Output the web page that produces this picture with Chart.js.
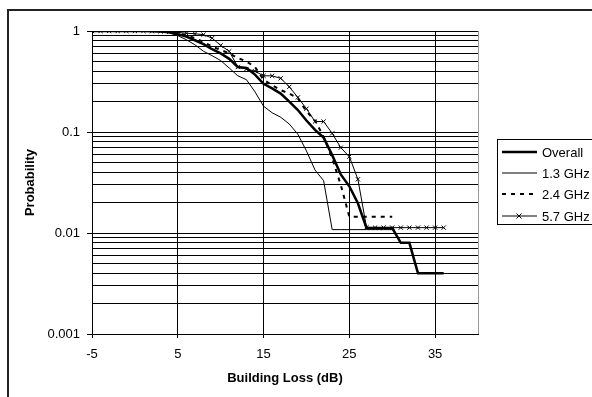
<!DOCTYPE html>
<html lang="en">
<head>
    <meta charset="UTF-8">
    <title>Building Loss</title>
    <script src="https://cdn.jsdelivr.net/npm/chart.js"></script>
    <style>
        body { margin: 0; background: #fff; }
        canvas { display: block; }
    </style>
</head>
<body>
<canvas id="lossChart" width="592" height="397"></canvas>
<script>
    // building loss in dB, one step per point
    var lossDb = [-5, -4, -3, -2, -1, 0, 1, 2, 3, 4, 5, 6, 7, 8, 9, 10, 11, 12, 13, 14, 15,
        16, 17, 18, 19, 20, 21, 22, 23, 24, 25, 26, 27, 28, 29, 30, 31, 32, 33, 34, 35, 36];

    // probability that the loss is exceeded
    var overall = [1, 1, 1, 1, 1, 1, 1, 0.995, 0.99, 0.97, 0.93, 0.88, 0.81, 0.74, 0.66, 0.6, 0.53, 0.44, 0.43, 0.37, 0.3,
        0.27, 0.24, 0.2, 0.165, 0.13, 0.105, 0.088, 0.059, 0.038, 0.029, 0.0197, 0.0112, 0.0112, 0.0112, 0.0112, 0.008, 0.008, 0.004, 0.004, 0.004, 0.004];
    var ghz13 = [1, 1, 1, 1, 1, 1, 1, 0.995, 0.99, 0.96, 0.9, 0.82, 0.73, 0.63, 0.57, 0.51, 0.43, 0.36, 0.33, 0.25, 0.18,
        0.155, 0.14, 0.12, 0.095, 0.065, 0.042, 0.033, 0.0108, 0.0108, 0.0108, 0.0108, 0.0108, 0.0108, 0.0108, 0.0108, null, null, null, null, null, null];
    var ghz24 = [1, 1, 1, 1, 1, 1, 1, 0.997, 0.993, 0.98, 0.95, 0.91, 0.85, 0.78, 0.7, 0.65, 0.6, 0.54, 0.5, 0.44, 0.33,
        0.29, 0.26, 0.24, 0.215, 0.16, 0.13, 0.09, 0.055, 0.03, 0.0145, 0.0145, 0.0145, 0.0145, 0.0145, 0.0145, null, null, null, null, null, null];
    var ghz57 = [1, 1, 1, 1, 1, 1, 1, 0.995, 0.99, 0.98, 0.97, 0.95, 0.94, 0.92, 0.85, 0.72, 0.63, 0.44, 0.42, 0.4, 0.36,
        0.36, 0.34, 0.28, 0.22, 0.17, 0.127, 0.127, 0.097, 0.07, 0.057, 0.034, 0.0114, 0.0113, 0.0113, 0.0113, 0.0113, 0.0113, 0.0113, 0.0113, 0.0113, 0.0113];

    var seriesNames = ["Overall", "1.3 GHz", "2.4 GHz", "5.7 GHz"];

    var xTicks = [-5, 5, 15, 25, 35, 40];
    var yMajor = [0.001, 0.01, 0.1, 1];
    var yTicks = [0.001, 0.002, 0.003, 0.004, 0.005, 0.006, 0.007, 0.008, 0.009,
        0.01, 0.02, 0.03, 0.04, 0.05, 0.06, 0.07, 0.08, 0.09,
        0.1, 0.2, 0.3, 0.4, 0.5, 0.6, 0.7, 0.8, 0.9, 1];

    function points(values) {
        var out = [];
        for (var i = 0; i < lossDb.length; i++) {
            if (values[i] !== null) out.push({ x: lossDb[i], y: values[i] });
        }
        return out;
    }

    function isMajor(v) {
        return yMajor.indexOf(v) !== -1;
    }

    var fontFamily = "'Liberation Sans', Arial, sans-serif";
    Chart.defaults.font.family = fontFamily;
    Chart.defaults.font.size = 13;
    Chart.defaults.color = "#000";

    // white page with the frame on the top and left
    var frame = {
        id: "frame",
        beforeDraw: function(chart) {
            var ctx = chart.ctx;
            ctx.save();
            ctx.fillStyle = "#fff";
            ctx.fillRect(0, 0, chart.width, chart.height);
            ctx.fillStyle = "#222";
            ctx.fillRect(7, 9, chart.width, 2);
            ctx.fillRect(7, 9, 2, chart.height);
            ctx.restore();
        }
    };

    // boxed legend to the right of the plot
    var sideLegend = {
        id: "sideLegend",
        afterDraw: function(chart) {
            var ctx = chart.ctx;
            var left = 497.5, top = 139.5, rowH = 21.2;
            ctx.save();
            ctx.fillStyle = "#fff";
            ctx.fillRect(left, top, 120, 85);
            ctx.strokeStyle = "#000";
            ctx.lineWidth = 1;
            ctx.strokeRect(left, top, 120, 85);
            ctx.font = "13px " + fontFamily;
            ctx.textBaseline = "middle";
            ctx.fillStyle = "#000";
            chart.data.datasets.forEach(function(ds, i) {
                var y = Math.round(top + 12.5 + i * rowH);
                ctx.beginPath();
                ctx.lineWidth = ds.borderWidth;
                ctx.setLineDash(ds.borderDash || []);
                ctx.moveTo(502, y);
                ctx.lineTo(537, y);
                ctx.stroke();
                ctx.setLineDash([]);
                if (ds.pointRadius > 0) {
                    ctx.lineWidth = 1;
                    ctx.beginPath();
                    ctx.moveTo(516.5, y - 2.5);
                    ctx.lineTo(521.5, y + 2.5);
                    ctx.moveTo(521.5, y - 2.5);
                    ctx.lineTo(516.5, y + 2.5);
                    ctx.stroke();
                }
                ctx.fillText(ds.label, 542, y + 1);
            });
            ctx.restore();
        }
    };

    new Chart(document.getElementById("lossChart"), {
        type: "line",
        data: {
            datasets: [{
                label: seriesNames[0],
                data: points(overall),
                borderColor: "#000",
                borderWidth: 2.5,
                pointRadius: 0
            }, {
                label: seriesNames[1],
                data: points(ghz13),
                borderColor: "#000",
                borderWidth: 1,
                pointRadius: 0
            }, {
                label: seriesNames[2],
                data: points(ghz24),
                borderColor: "#000",
                borderWidth: 2,
                borderDash: [4, 5],
                pointRadius: 0
            }, {
                label: seriesNames[3],
                data: points(ghz57),
                borderColor: "#000",
                borderWidth: 1,
                pointStyle: "crossRot",
                pointRadius: 3,
                pointBorderWidth: 1,
                pointBorderColor: "#000"
            }]
        },
        options: {
            responsive: false,
            animation: false,
            events: [],
            layout: { padding: { left: 0, top: 31, right: 114, bottom: 0 } },
            elements: { line: { tension: 0 } },
            plugins: {
                legend: { display: false },
                tooltip: { enabled: false }
            },
            scales: {
                x: {
                    type: "linear",
                    min: -5,
                    max: 40,
                    afterBuildTicks: function(scale) {
                        scale.ticks = xTicks.map(function(v) { return { value: v }; });
                    },
                    afterFit: function(scale) { scale.height = 63; },
                    ticks: {
                        autoSkip: false,
                        maxRotation: 0,
                        padding: 9,
                        callback: function(v) { return v === 40 ? "" : String(v); }
                    },
                    grid: {
                        tickLength: 4,
                        color: function(c) { return c.tick && c.tick.value === 40 ? "#999" : "#000"; },
                        tickColor: function(c) { return c.tick && c.tick.value === 40 ? "rgba(0,0,0,0)" : "#000"; }
                    },
                    border: { color: "#000", width: 1 },
                    title: {
                        display: true,
                        text: "Building Loss (dB)",
                        font: { weight: "bold", size: 13 },
                        padding: { top: 0, bottom: 11 }
                    }
                },
                y: {
                    type: "logarithmic",
                    min: 0.001,
                    max: 1,
                    afterBuildTicks: function(scale) {
                        scale.ticks = yTicks.map(function(v) { return { value: v, major: isMajor(v) }; });
                    },
                    afterFit: function(scale) { scale.width = 92; },
                    ticks: {
                        autoSkip: false,
                        padding: 7,
                        callback: function(v) { return isMajor(v) ? String(v) : ""; }
                    },
                    grid: {
                        tickLength: 5,
                        color: "#000",
                        tickColor: function(c) { return c.tick && isMajor(c.tick.value) ? "#000" : "rgba(0,0,0,0)"; }
                    },
                    border: { color: "#000", width: 1 },
                    title: {
                        display: true,
                        text: "Probability",
                        font: { weight: "bold", size: 13 },
                        padding: { top: 23, bottom: 0 }
                    }
                }
            }
        },
        plugins: [frame, sideLegend]
    });
</script>
</body>
</html>
